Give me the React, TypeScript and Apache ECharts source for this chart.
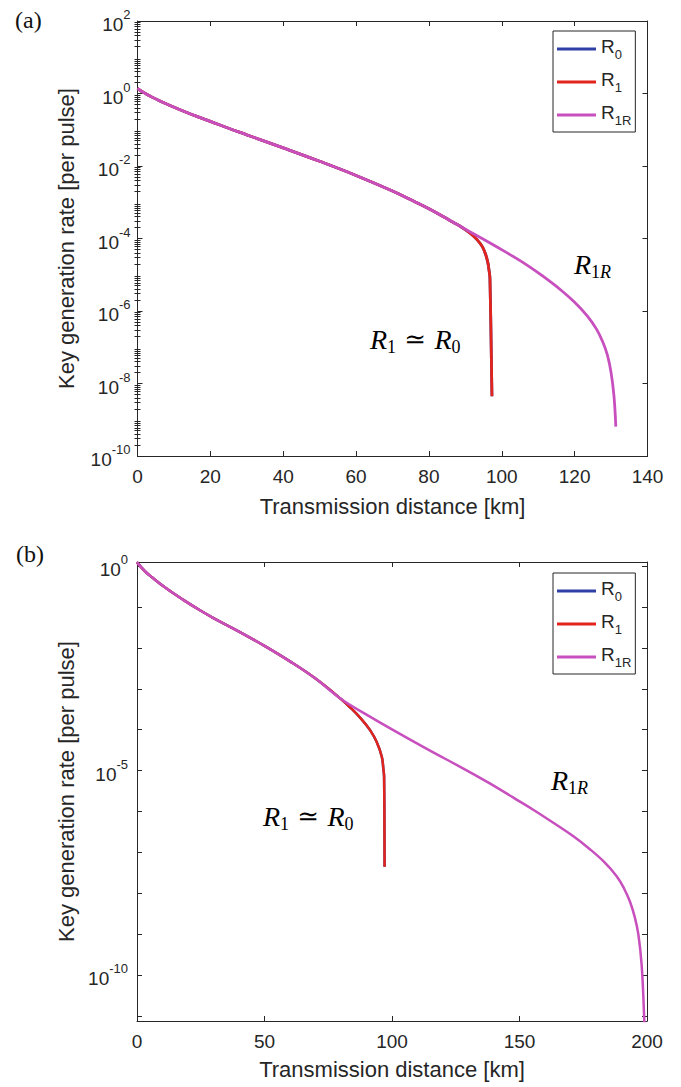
import React, { useEffect, useRef } from "react";
import * as echarts from "echarts";

// ---------- data (log10 of key rate per pulse) ----------
// Panel (a)
const aCommonKm = [0, 1, 2, 4, 6, 8, 12, 17, 20, 25, 30, 40, 50, 60, 70, 76, 80, 84, 86.4];
const aCommonLog = [0.14, 0.07, 0.01, -0.1, -0.2, -0.29, -0.46, -0.66, -0.77, -0.96, -1.14, -1.5, -1.87, -2.26, -2.69, -2.98, -3.18, -3.4, -3.54];
const aR1TailKm = [89, 91.4, 93.2, 94.7, 95.6, 96.2, 96.5, 96.75, 97.3];
const aR1TailLog = [-3.69, -3.86, -4.03, -4.23, -4.45, -4.68, -4.88, -5.1, -8.35];
const aR1RTailKm = [91, 96.9, 101, 106.1, 111, 116.2, 120, 123.5, 126, 127.7, 129, 130.0, 130.8, 131.3];
const aR1RTailLog = [-3.8, -4.13, -4.37, -4.68, -5.02, -5.42, -5.76, -6.14, -6.5, -6.85, -7.22, -7.7, -8.35, -9.19];

// Panel (b)
const bCommonKm = [0, 3, 6, 11.6, 18, 24.7, 30, 40, 50, 60, 70, 80];
const bCommonLog = [0.09, -0.12, -0.28, -0.55, -0.82, -1.08, -1.27, -1.6, -1.95, -2.33, -2.75, -3.25];
const bR1TailKm = [84, 88, 91.4, 94, 96.0, 96.6, 96.9, 97.1];
const bR1TailLog = [-3.48, -3.74, -4.01, -4.3, -4.66, -4.95, -5.15, -7.35];
const bR1RTailKm = [90, 100.5, 114, 128, 138, 147.6, 156, 164.6, 171, 177.6, 183, 188.1, 191, 193.3, 195.2, 196.6, 197.9, 198.8, 199.3];
const bR1RTailLog = [-3.63, -4.01, -4.48, -4.95, -5.3, -5.66, -5.98, -6.33, -6.6, -6.92, -7.22, -7.58, -7.88, -8.2, -8.58, -9.0, -9.75, -10.9, -11.9];

// axes
const aYMajorExp = [-10, -8, -6, -4, -2, 0, 2];
const bYLabelExp = [-10, -5, 0];
const bYTickExp = [-11, -10, -9, -8, -7, -6, -5, -4, -3, -2, -1, 0];

const seriesNames = ["R0", "R1", "R1R"];
const seriesColors = ["#2e3fa6", "#e1251d", "#c84fbe"];

const SANS = "'Liberation Sans', Arial, Helvetica, sans-serif";
const SERIF = "'Liberation Serif', 'DejaVu Serif', serif";
const AXIS_COLOR = "#262626";

function pairs(km: number[], lg: number[]) {
  return km.map((k, i) => [k, lg[i]]);
}

function minorTicks(lo: number, hi: number) {
  const out: number[] = [];
  for (let d = lo; d < hi; d++) {
    for (let k = 2; k <= 9; k++) out.push(d + Math.log10(k));
  }
  return out;
}

const supRich = {
  b: { fontSize: 19, lineHeight: 19, padding: [8, 0, 1, 0], fontFamily: SANS, color: AXIS_COLOR },
  s: { fontSize: 13, lineHeight: 13, padding: [1, 0, 14, 0], fontFamily: SANS, color: AXIS_COLOR },
};

const annoRich = {
  r: { fontSize: 28, lineHeight: 28, padding: [0, 0, 8, 0], fontFamily: SERIF, fontStyle: "italic", color: "#111" },
  q: { fontSize: 26, lineHeight: 28, padding: [0, 0, 8, 0], fontFamily: "'DejaVu Serif', serif", color: "#111" },
  s: { fontSize: 18, lineHeight: 18, padding: [13, 0, 5, 0], fontFamily: SERIF, color: "#111" },
  si: { fontSize: 18, lineHeight: 18, padding: [13, 0, 5, 0], fontFamily: SERIF, fontStyle: "italic", color: "#111" },
};

const legendRich = {
  b: { fontSize: 19, lineHeight: 19, padding: [0, 0, 5, 0], fontFamily: SANS, color: AXIS_COLOR },
  s: { fontSize: 13, lineHeight: 13, padding: [11, 0, 0, 0], fontFamily: SANS, color: AXIS_COLOR },
};

function legendFmt(name: string) {
  return `{b|R}{s|${name.slice(1)}}`;
}

export default function App() {
  const ref = useRef<HTMLDivElement>(null);
  useEffect(() => {
    if (!ref.current) return;
    const chart = echarts.init(ref.current, null, { renderer: "svg" });

    const tickBase = { show: true, inside: true, lineStyle: { color: AXIS_COLOR, width: 1 } };
    const lineBase = { show: true, onZero: false, lineStyle: { color: AXIS_COLOR, width: 1 } };
    const xLabel = { fontSize: 19, color: AXIS_COLOR, fontFamily: SANS, margin: 11 };
    const nameStyle = { fontSize: 22, color: AXIS_COLOR, fontFamily: SANS };

    const xAxes = [
      {
        type: "value", gridIndex: 0, position: "bottom", min: 0, max: 140, interval: 20,
        axisLine: lineBase, axisTick: { ...tickBase, length: 5 }, axisLabel: xLabel, splitLine: { show: false },
        name: "Transmission distance [km]", nameLocation: "middle", nameGap: 39, nameTextStyle: nameStyle,
      },
      {
        type: "value", gridIndex: 0, position: "top", min: 0, max: 140, interval: 20,
        axisLine: lineBase, axisTick: { ...tickBase, length: 5 }, axisLabel: { show: false }, splitLine: { show: false },
      },
      {
        type: "value", gridIndex: 1, position: "bottom", min: 0, max: 200, interval: 50,
        axisLine: lineBase, axisTick: { ...tickBase, length: 5 }, axisLabel: xLabel, splitLine: { show: false },
        name: "Transmission distance [km]", nameLocation: "middle", nameGap: 37, nameTextStyle: nameStyle,
      },
      {
        type: "value", gridIndex: 1, position: "top", min: 0, max: 200, interval: 50,
        axisLine: lineBase, axisTick: { ...tickBase, length: 5 }, axisLabel: { show: false }, splitLine: { show: false },
      },
    ];

    const aMinor = minorTicks(-10, 2);
    const yAxes = [
      {
        type: "value", gridIndex: 0, position: "left", min: -10, max: 2, interval: 2,
        axisLine: lineBase, axisTick: { ...tickBase, length: 5, customValues: aYMajorExp },
        axisLabel: { margin: 7, customValues: aYMajorExp, formatter: (v: number) => `{b|10}{s|${v}}`, rich: supRich },
        splitLine: { show: false },
        name: "Key generation rate [per pulse]", nameLocation: "middle", nameGap: 60, nameTextStyle: nameStyle,
      },
      {
        type: "value", gridIndex: 0, position: "right", min: -10, max: 2, interval: 2,
        axisLine: lineBase, axisTick: { ...tickBase, length: 5, customValues: aYMajorExp },
        axisLabel: { show: false }, splitLine: { show: false },
      },
      {
        type: "value", gridIndex: 0, position: "left", min: -10, max: 2,
        axisLine: { show: false }, axisTick: { ...tickBase, length: 3, customValues: aMinor },
        axisLabel: { show: false }, splitLine: { show: false },
      },
      {
        type: "value", gridIndex: 0, position: "right", min: -10, max: 2,
        axisLine: { show: false }, axisTick: { ...tickBase, length: 3, customValues: aMinor },
        axisLabel: { show: false }, splitLine: { show: false },
      },
      {
        type: "value", gridIndex: 1, position: "left", min: -11.12, max: 0.1,
        axisLine: lineBase, axisTick: { ...tickBase, length: 5, customValues: bYTickExp },
        axisLabel: { margin: 9, customValues: bYLabelExp, formatter: (v: number) => `{b|10}{s|${v}}`, rich: supRich },
        splitLine: { show: false },
        name: "Key generation rate [per pulse]", nameLocation: "middle", nameGap: 60, nameTextStyle: nameStyle,
      },
      {
        type: "value", gridIndex: 1, position: "right", min: -11.12, max: 0.1,
        axisLine: lineBase, axisTick: { ...tickBase, length: 5, customValues: bYTickExp },
        axisLabel: { show: false }, splitLine: { show: false },
      },
    ];

    const aR1 = pairs(aCommonKm, aCommonLog).concat(pairs(aR1TailKm, aR1TailLog));
    const aR1R = pairs(aCommonKm, aCommonLog).concat(pairs(aR1RTailKm, aR1RTailLog));
    const bR1 = pairs(bCommonKm, bCommonLog).concat(pairs(bR1TailKm, bR1TailLog));
    const bR1R = pairs(bCommonKm, bCommonLog).concat(pairs(bR1RTailKm, bR1RTailLog));

    const mk = (name: string, color: string, data: number[][], xi: number, yi: number, w: number) => ({
      type: "line", name, data, xAxisIndex: xi, yAxisIndex: yi, symbol: "none", showSymbol: false,
      smooth: 0.4, clip: true,
      lineStyle: { color, width: w }, itemStyle: { color },
    });

    const series = [
      mk("R0", seriesColors[0], aR1, 0, 0, 2.8),
      mk("R1", seriesColors[1], aR1, 0, 0, 2.8),
      mk("R1R", seriesColors[2], aR1R, 0, 0, 2.8),
      mk("R0", seriesColors[0], bR1, 2, 4, 2.5),
      mk("R1", seriesColors[1], bR1, 2, 4, 2.5),
      mk("R1R", seriesColors[2], bR1R, 2, 4, 2.5),
    ];

    const legendBase = {
      orient: "vertical", data: seriesNames, icon: "rect", itemWidth: 39, itemHeight: 3, itemGap: 9,
      padding: [6, 4, 5, 4], borderColor: AXIS_COLOR, borderWidth: 1, backgroundColor: "#fff",
      formatter: legendFmt, textStyle: { rich: legendRich }, selectedMode: false,
    };

    const option = {
      animation: false,
      grid: [
        { left: 137.5, right: 33.5, top: 21, height: 435, containLabel: false },
        { left: 137, right: 34, top: 562, height: 459, containLabel: false },
      ],
      xAxis: xAxes,
      yAxis: yAxes,
      legend: [
        { ...legendBase, left: 553, top: 31 },
        { ...legendBase, left: 553, top: 573 },
      ],
      series,
      graphic: [
        { type: "text", left: 15, top: 8, style: { text: "(a)", font: `24px ${SERIF}`, fill: "#111" } },
        { type: "text", left: 16, top: 542, style: { text: "(b)", font: `24px ${SERIF}`, fill: "#111" } },
        { type: "text", x: 370, y: 329, style: { text: "{r|R}{s|1}{q| ≃ }{r|R}{s|0}", rich: annoRich } },
        { type: "text", x: 574, y: 254, style: { text: "{r|R}{s|1}{si|R}", rich: annoRich } },
        { type: "text", x: 263, y: 806, style: { text: "{r|R}{s|1}{q| ≃ }{r|R}{s|0}", rich: annoRich } },
        { type: "text", x: 551, y: 770, style: { text: "{r|R}{s|1}{si|R}", rich: annoRich } },
      ],
    };

    chart.setOption(option as any);
    return () => chart.dispose();
  }, []);

  return (
    <div
      ref={ref}
      style={{ position: "absolute", left: 0, top: 0, width: 681, height: 1087, background: "#fff" }}
    />
  );
}
